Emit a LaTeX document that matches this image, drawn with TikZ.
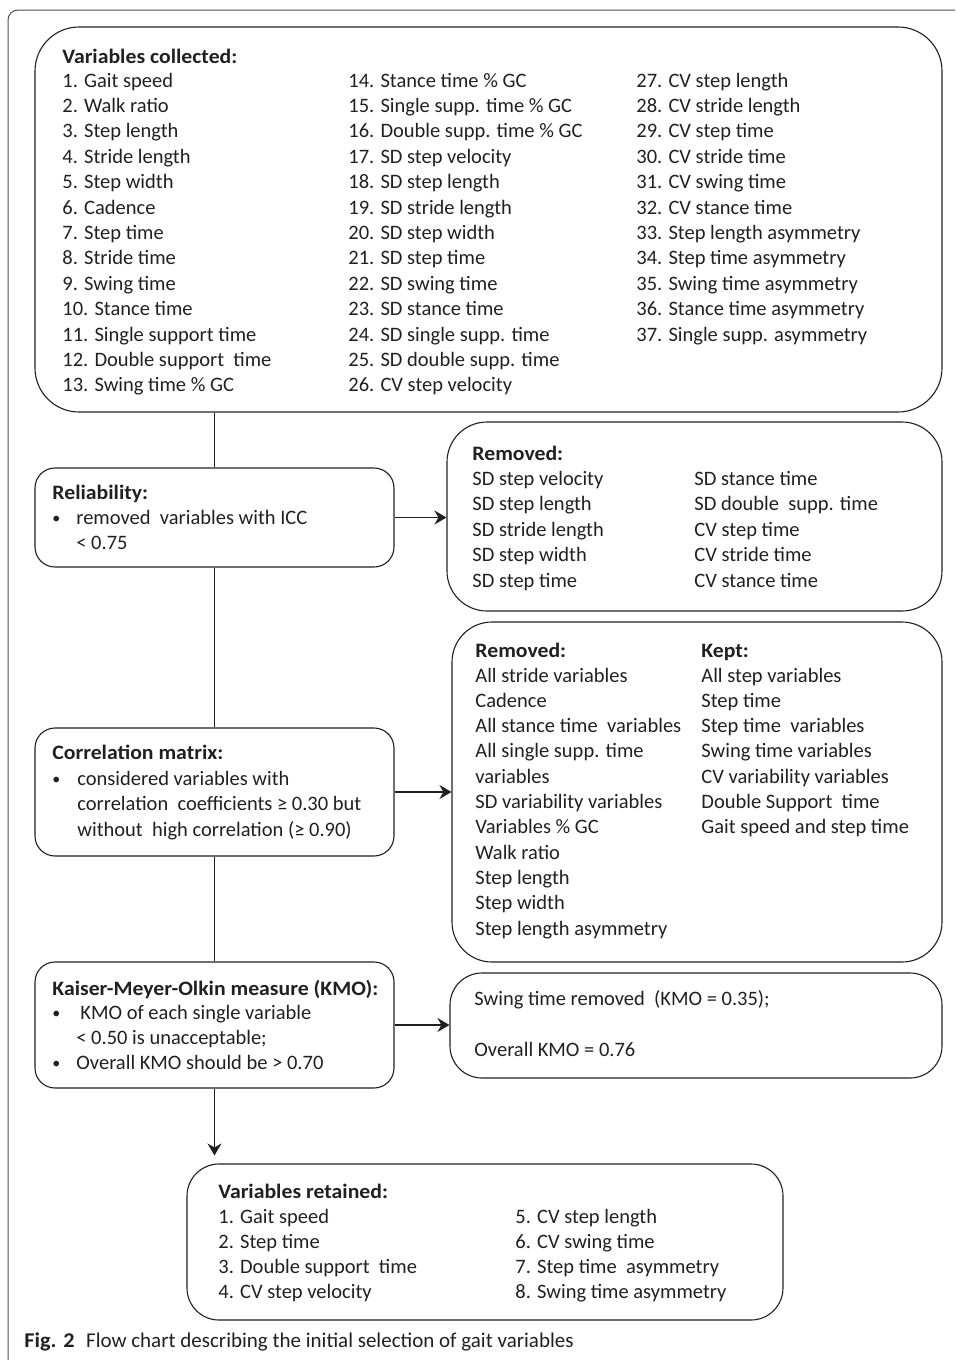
\documentclass[tikz,border=0pt]{standalone}
\usepackage{fontspec}
\setmainfont{Carlito}[BoldFeatures={FakeStretch=1.06}]
\usetikzlibrary{arrows.meta,fit,calc}
\definecolor{ink}{HTML}{231F20}
\begin{document}
\begin{tikzpicture}[x=0.5pt,y=-0.5pt,
  box/.style={draw=ink, line width=0.55pt, inner sep=0pt},
  txt/.style={anchor=base west, inner sep=0pt, text=ink, font=\fontsize{10.25}{12.7}\selectfont},
  hd/.style={txt, font=\fontsize{10.25}{12.7}\selectfont\bfseries},
  bul/.style={txt, font=\fontsize{8}{10}\selectfont},
  conn/.style={draw=ink, line width=0.55pt},
  arr/.style={conn, -{Stealth[length=6pt,width=7pt,inset=2pt]}}]
\path[use as bounding box] (0,0) rectangle (955,1360);
\clip (0,0) rectangle (955,1360);
% outer frame
\draw[draw=ink!80, line width=0.5pt, rounded corners=5pt] (975,10) -- (8,10) -- (8,1370) -- (975,1370);

% boxes
\node[box, rounded corners=22pt, fit={(35,27) (942,412)}] (collected) {};
\node[box, rounded corners=10pt, fit={(35,468) (394,567)}] (rel) {};
\node[box, rounded corners=20pt, fit={(447,422) (942,611)}] (rem1) {};
\node[box, rounded corners=10pt, fit={(35,728) (394,856)}] (corr) {};
\node[box, rounded corners=20pt, fit={(452,622) (942,962)}] (rem2) {};
\node[box, rounded corners=10pt, fit={(35,962) (394,1088)}] (kmo) {};
\node[box, rounded corners=16pt, fit={(450,973) (942,1078)}] (kmoR) {};
\node[box, rounded corners=16pt, fit={(187,1164) (783,1320)}] (ret) {};

% connectors
\draw[conn] (collected.south -| rel.north) -- (rel.north);
\draw[conn] (rel.south) -- (corr.north);
\draw[conn] (corr.south) -- (kmo.north);
\coordinate (tip) at ($(kmo.south |- ret.north)+(0,-8)$);
\draw[arr] (kmo.south) -- (tip);
\draw[arr] (rel.east) -- (rel.east -| rem1.west);
\draw[arr] (corr.east) -- (corr.east -| rem2.west);
\draw[arr] (kmo.east) -- (kmo.east -| kmoR.west);

% Variables collected
\node[hd] (colT) at (62,63) {Variables collected:};
\foreach \t [count=\i] in {1. Gait speed, 2. Walk ratio, 3. Step length, 4. Stride length, 5. Step width, 6. Cadence, 7. Step time, 8. Stride time, 9. Swing time, 10. Stance time, 11. Single support time, 12. Double support\ \ time, 13. Swing time \% GC}
  \node[txt] (ca\i) at (62,{87+(\i-1)*25.4}) {\t};
\foreach \t [count=\i] in {14. Stance time \% GC, 15. Single supp. time \% GC, 16. Double supp. time \% GC, 17. SD step velocity, 18. SD step length, 19. SD stride length, 20. SD step width, 21. SD step time, 22. SD swing time, 23. SD stance time, 24. SD single supp. time, 25. SD double supp. time, 26. CV step velocity}
  \node[txt] (cb\i) at (348,{87+(\i-1)*25.4}) {\t};
\foreach \t [count=\i] in {27. CV step length, 28. CV stride length, 29. CV step time, 30. CV stride time, 31. CV swing time, 32. CV stance time, 33. Step length asymmetry, 34. Step time asymmetry, 35. Swing time asymmetry, 36. Stance time asymmetry, 37. Single supp. asymmetry}
  \node[txt] (cc\i) at (636,{87+(\i-1)*25.4}) {\t};

% Reliability
\node[hd] (relT) at (52,499) {Reliability:};
\node[bul] (relB) at (52,523) {\textbullet};
\node[txt] (relL1) at (76,524) {removed\ \ variables with ICC};
\node[txt] (relL2) at (76,549) {< 0.75};

% Removed 1
\node[hd] (r1T) at (472,460) {Removed:};
\foreach \t [count=\i] in {SD step velocity, SD step length, SD stride length, SD step width, SD step time}
  \node[txt] (ra\i) at (472,{485+(\i-1)*25.5}) {\t};
\foreach \t [count=\i] in {SD stance time, SD double\ \ supp. time, CV step time, CV stride time, CV stance time}
  \node[txt] (rb\i) at (694,{485+(\i-1)*25.5}) {\t};

% Correlation matrix
\node[hd] (corT) at (52,759) {Correlation matrix:};
\node[bul] (corB) at (52,784) {\textbullet};
\node[txt] (corL1) at (77,785) {considered variables with};
\node[txt] (corL2) at (77,810.5) {correlation\ \ coefficients ≥ 0.30 but};
\node[txt] (corL3) at (77,836) {without\ \ high correlation (≥ 0.90)};

% Removed / Kept
\node[hd] (r2T) at (475,657) {Removed:};
\foreach \t [count=\i] in {All stride variables, Cadence, All stance time\ \ variables, All single supp. time, variables, SD variability variables, Variables \% GC, Walk ratio, Step length, Step width, Step length asymmetry}
  \node[txt] (rc\i) at (475,{682+(\i-1)*25.3}) {\t};
\node[hd] (kT) at (701,657) {Kept:};
\foreach \t [count=\i] in {All step variables, Step time, Step time\ \ variables, Swing time variables, CV variability variables, Double Support\ \ time, Gait speed and step time}
  \node[txt] (kc\i) at (701,{682+(\i-1)*25.3}) {\t};

% KMO
\node[hd] (kmoT) at (52,995) {Kaiser-Meyer-Olkin measure (KMO):};
\node[bul] (kmoB1) at (52,1018) {\textbullet};
\node[txt] (kmoL1) at (80,1019) {KMO of each single variable};
\node[txt] (kmoL2) at (76,1044) {< 0.50 is unacceptable;};
\node[bul] (kmoB2) at (52,1068) {\textbullet};
\node[txt] (kmoL3) at (76,1069) {Overall KMO should be > 0.70};

\node[txt] (kr1) at (474,1005) {Swing time removed\ \ (KMO = 0.35);};
\node[txt] (kr2) at (474,1056) {Overall KMO = 0.76};

% Retained
\node[hd] (retT) at (218,1198) {Variables retained:};
\foreach \t [count=\i] in {1. Gait speed, 2. Step time, 3. Double support\ \ time, 4. CV step velocity}
  \node[txt] (ta\i) at (218,{1223+(\i-1)*25.3}) {\t};
\foreach \t [count=\i] in {5. CV step length, 6. CV swing time, 7. Step time\ \ asymmetry, 8. Swing time asymmetry}
  \node[txt] (tb\i) at (515,{1223+(\i-1)*25.3}) {\t};

% caption
\node[txt, font=\fontsize{10.5}{12.5}\selectfont] (cap) at (24,1347) {\textbf{Fig. 2}\hspace{0.55em}Flow chart describing the initial selection of gait variables};
\end{tikzpicture}
\end{document}
